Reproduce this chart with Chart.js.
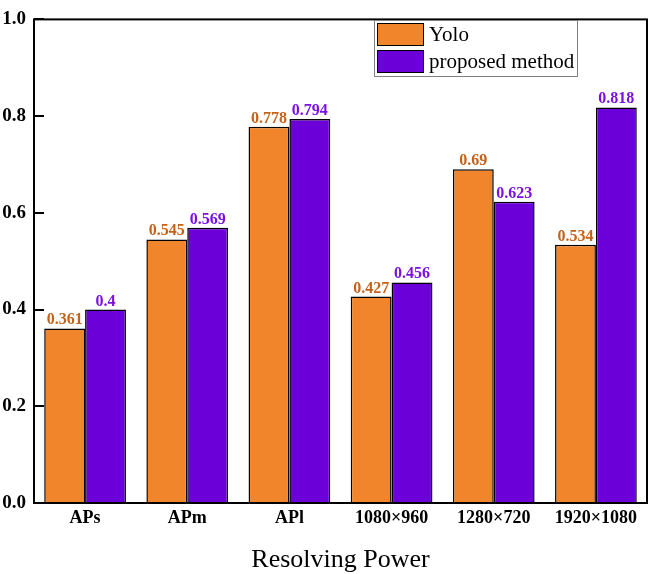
<!DOCTYPE html>
<html>
<head>
<meta charset="utf-8">
<script src="https://cdn.jsdelivr.net/npm/chart.js@4/dist/chart.umd.min.js"></script>
<style>
  html, body { margin: 0; padding: 0; background: #fff; }
  #wrap { width: 650px; height: 574px; }
</style>
</head>
<body>
<div id="wrap"><canvas id="chart" width="650" height="574"></canvas></div>
<script>
// Data
const categories = ['APs', 'APm', 'APl', '1080\u00d7960', '1280\u00d7720', '1920\u00d71080'];
const seriesNames = ['Yolo', 'proposed method'];
const yoloValues = [0.361, 0.545, 0.778, 0.427, 0.69, 0.534];
const proposedValues = [0.4, 0.569, 0.794, 0.456, 0.623, 0.818];
const yTicks = [0, 0.2, 0.4, 0.6, 0.8, 1.0];

const SERIF = '"Liberation Serif", "Times New Roman", serif';
const FILLS = ['#f0852b', '#6c00d8'];
const LABEL_COLORS = ['#c4621c', '#7a10e2'];

// Frame, inward y ticks, value labels and the boxed legend
const decorations = {
    id: 'decorations',
    afterDatasetsDraw(chart) {
        const ctx = chart.ctx;
        const area = chart.chartArea;
        const yScale = chart.scales.y;

        ctx.save();
        // value labels above each bar
        ctx.font = 'bold 16px ' + SERIF;
        ctx.textAlign = 'center';
        ctx.textBaseline = 'alphabetic';
        chart.data.datasets.forEach((ds, i) => {
            const meta = chart.getDatasetMeta(i);
            meta.data.forEach((bar, j) => {
                ctx.fillStyle = LABEL_COLORS[i];
                ctx.fillText(String(ds.data[j]), bar.x, bar.y - 4);
            });
        });

        // plot frame
        ctx.strokeStyle = '#000';
        ctx.lineWidth = 2;
        ctx.strokeRect(area.left, area.top, area.right - area.left, area.bottom - area.top);

        // inward tick marks on the y axis
        yTicks.forEach(v => {
            const py = Math.round(yScale.getPixelForValue(v));
            ctx.beginPath();
            ctx.moveTo(area.left, py);
            ctx.lineTo(area.left + 10, py);
            ctx.stroke();
        });

        // legend box
        const bx = area.left + 340, by = 20, bw = 203, bh = 56;
        ctx.lineWidth = 1;
        ctx.strokeStyle = '#808080';
        ctx.fillStyle = '#fff';
        ctx.fillRect(bx, by, bw, bh);
        ctx.strokeRect(bx + 0.5, by + 0.5, bw, bh);
        ctx.font = '21px ' + SERIF;
        ctx.textAlign = 'left';
        ctx.textBaseline = 'middle';
        chart.data.datasets.forEach((ds, i) => {
            const sy = by + 3 + i * 27;
            ctx.fillStyle = FILLS[i];
            ctx.fillRect(bx + 3, sy, 47, 23);
            ctx.strokeStyle = '#000';
            ctx.strokeRect(bx + 3.5, sy + 0.5, 46, 22);
            ctx.fillStyle = '#000';
            ctx.fillText(ds.label, bx + 55, sy + 12);
        });
        ctx.restore();
    }
};

new Chart(document.getElementById('chart').getContext('2d'), {
    type: 'bar',
    data: {
        labels: categories,
        datasets: [
            {
                label: seriesNames[0],
                data: yoloValues,
                backgroundColor: FILLS[0],
                borderColor: '#000',
                borderWidth: 1.5
            },
            {
                label: seriesNames[1],
                data: proposedValues,
                backgroundColor: FILLS[1],
                borderColor: '#000',
                borderWidth: 1.5
            }
        ]
    },
    options: {
        responsive: false,
        animation: false,
        layout: { padding: { top: 8, right: 3, left: 0, bottom: 0 } },
        categoryPercentage: 0.8,
        barPercentage: 1.0,
        plugins: {
            legend: { display: false },
            tooltip: { enabled: false }
        },
        scales: {
            x: {
                grid: { display: false, drawTicks: false },
                border: { display: false },
                ticks: {
                    color: '#000',
                    padding: 5,
                    font: { family: SERIF, size: 18, weight: 'bold' }
                },
                title: {
                    display: true,
                    text: 'Resolving Power',
                    color: '#000',
                    padding: { top: 0, bottom: 1 },
                    font: { family: SERIF, size: 26, lineHeight: 1 }
                },
                afterFit(scale) { scale.height = 71; }
            },
            y: {
                min: 0,
                max: 1.0,
                afterBuildTicks(scale) {
                    scale.ticks = yTicks.map(v => ({ value: v }));
                },
                grid: { display: false, drawTicks: false },
                border: { display: false },
                ticks: {
                    color: '#000',
                    padding: 8,
                    font: { family: SERIF, size: 19, weight: 'bold' },
                    callback: v => Number(v).toFixed(1)
                },
                afterFit(scale) { scale.width = 34; }
            }
        }
    },
    plugins: [decorations]
});
</script>
</body>
</html>
